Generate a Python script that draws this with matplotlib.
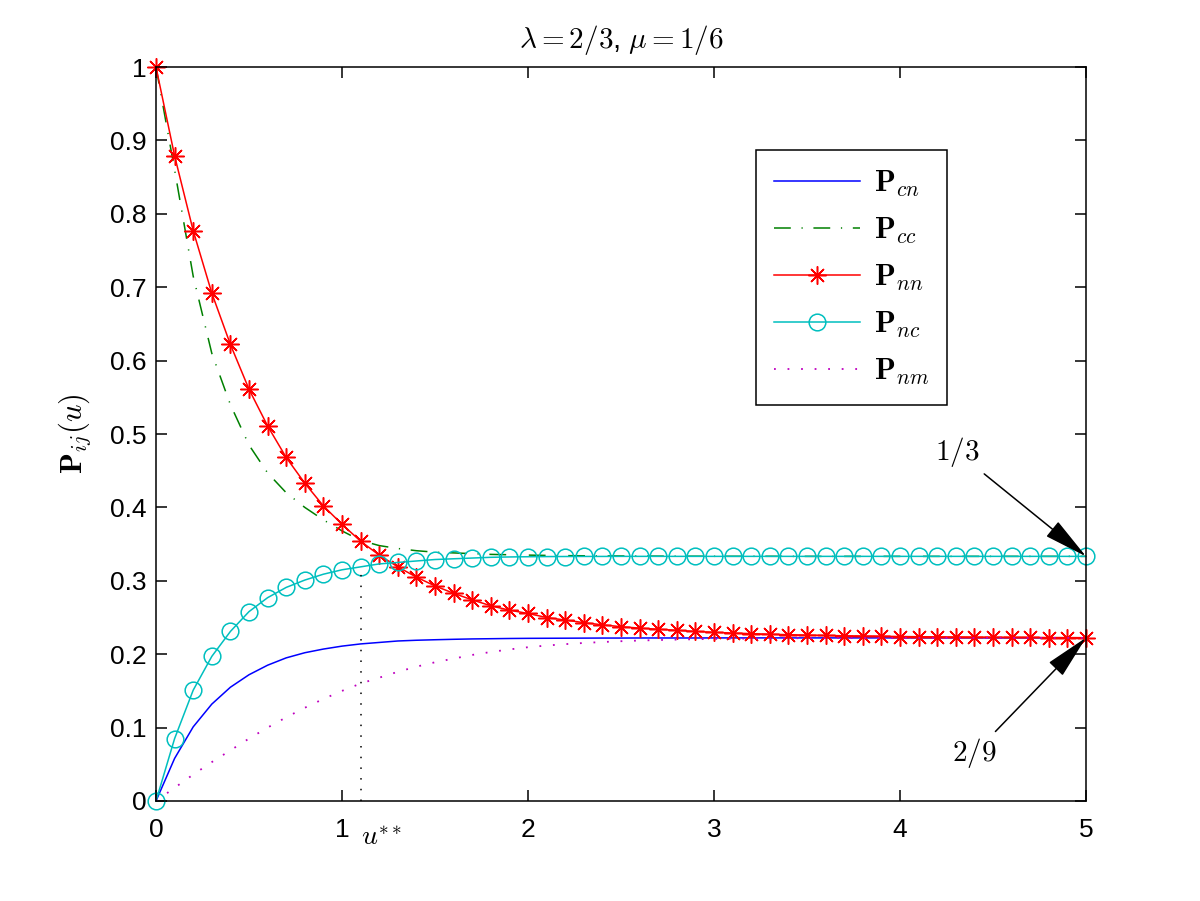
import numpy as np
import matplotlib
matplotlib.use("Agg")
import matplotlib.pyplot as plt

plt.rcParams['font.family'] = ['Liberation Sans', 'DejaVu Sans']
plt.rcParams['mathtext.fontset'] = 'cm'

# sampling grid (u = 0, 0.1, ..., 5)
u = np.round(np.arange(0, 51) * 0.1, 1)

p_cn = [0.0, 0.058, 0.101, 0.132, 0.155, 0.172, 0.185, 0.195, 0.202, 0.207,
        0.211, 0.214, 0.216, 0.218, 0.219, 0.2197, 0.2203, 0.2208, 0.2211, 0.2214,
        0.2216, 0.2217, 0.2218, 0.2219, 0.2220, 0.2220, 0.2221, 0.2221, 0.2221, 0.2221,
        0.2222, 0.2222, 0.2222, 0.2222, 0.2222, 0.2222, 0.2222, 0.2222, 0.2222, 0.2222,
        0.2222, 0.2222, 0.2222, 0.2222, 0.2222, 0.2222, 0.2222, 0.2222, 0.2222, 0.2222,
        0.2222]

p_cc = [1.0, 0.860, 0.715, 0.610, 0.540, 0.485, 0.447, 0.420, 0.400, 0.383,
        0.368, 0.355, 0.348, 0.344, 0.341, 0.339, 0.338, 0.337, 0.336, 0.3355,
        0.335, 0.3346, 0.3343, 0.3341, 0.3339, 0.3338, 0.3337, 0.3336, 0.3335, 0.3335,
        0.3334, 0.3334, 0.3334, 0.3334, 0.3333, 0.3333, 0.3333, 0.3333, 0.3333, 0.3333,
        0.3333, 0.3333, 0.3333, 0.3333, 0.3333, 0.3333, 0.3333, 0.3333, 0.3333, 0.3333,
        0.3333]

p_nn = [1.0, 0.879, 0.777, 0.692, 0.622, 0.561, 0.511, 0.468, 0.433, 0.402,
        0.377, 0.354, 0.335, 0.319, 0.305, 0.293, 0.283, 0.274, 0.266, 0.260,
        0.2555, 0.250, 0.2465, 0.243, 0.240, 0.2375, 0.2355, 0.234, 0.2325, 0.231,
        0.2298, 0.2288, 0.2280, 0.2272, 0.2266, 0.2260, 0.2255, 0.2251, 0.2247, 0.2244,
        0.2241, 0.2238, 0.2236, 0.2234, 0.2232, 0.2231, 0.2229, 0.2228, 0.2227, 0.2226,
        0.2225]

p_nc = [0.0, 0.085, 0.151, 0.197, 0.231, 0.258, 0.277, 0.291, 0.301, 0.309,
        0.315, 0.319, 0.323, 0.325, 0.327, 0.329, 0.330, 0.331, 0.332, 0.3325,
        0.3328, 0.3330, 0.3331, 0.3332, 0.3332, 0.3333, 0.3333, 0.3333, 0.3333, 0.3333,
        0.3333, 0.3333, 0.3333, 0.3333, 0.3333, 0.3333, 0.3333, 0.3333, 0.3333, 0.3333,
        0.3333, 0.3333, 0.3333, 0.3333, 0.3333, 0.3333, 0.3333, 0.3333, 0.3333, 0.3333,
        0.3333]

p_nm = [0.0, 0.018, 0.036, 0.053, 0.069, 0.085, 0.100, 0.114, 0.127, 0.139,
        0.150, 0.160, 0.168, 0.176, 0.183, 0.189, 0.194, 0.199, 0.203, 0.2065,
        0.2095, 0.2118, 0.2137, 0.2153, 0.2166, 0.2177, 0.2186, 0.2193, 0.2199, 0.2204,
        0.2208, 0.2211, 0.2213, 0.2215, 0.2217, 0.2218, 0.2219, 0.2220, 0.2220, 0.2221,
        0.2221, 0.2222, 0.2222, 0.2222, 0.2222, 0.2222, 0.2222, 0.2222, 0.2222, 0.2222,
        0.2222]

u_star = 1.1
labels = [r'$\mathbf{P}_{cn}$', r'$\mathbf{P}_{cc}$', r'$\mathbf{P}_{nn}$',
          r'$\mathbf{P}_{nc}$', r'$\mathbf{P}_{nm}$']

fig = plt.figure(figsize=(12, 9.01), dpi=100)
ax = fig.add_axes([0.13, 0.111, 0.775, 0.8146])

ax.plot(u, p_cn, color='b', lw=1.1, label=labels[0])
ax.plot(u, p_cc, color=(0, 0.5, 0), lw=1.1, dashes=[11, 7, 0.8, 7], label=labels[1])
ax.plot(u, p_nn, color='r', lw=1.1, marker=(8, 2, 0), ms=13, mew=1.1,
        label=labels[2], clip_on=False)
ax.plot(u, p_nc, color=(0, 0.75, 0.75), lw=1.1, marker='o', ms=12, mfc='none',
        mew=1.1, label=labels[3], clip_on=False)
ax.plot(u, p_nm, color=(0.75, 0, 0.75), lw=1.3, dashes=[1, 6.5], label=labels[4])

# u** marker line
i_star = int(round(u_star * 10))
ax.plot([u_star, u_star], [0, p_nc[i_star]], color='k', lw=1.1, dashes=[1, 6])
ax.text(u_star, -0.05, r'$u^{**}$', fontsize=20, ha='left', va='center')

arrow = dict(arrowstyle='-|>,head_length=1.4,head_width=0.3', color='k',
             lw=1.1, mutation_scale=20, shrinkA=2, shrinkB=0)
ax.annotate(r'$1/3$', xy=(5, p_nc[-1]), xytext=(4.31, 0.475), fontsize=21,
            ha='center', va='center', arrowprops=arrow, annotation_clip=False)
ax.annotate(r'$2/9$', xy=(5, p_nn[-1]), xytext=(4.40, 0.065), fontsize=21,
            ha='center', va='center', arrowprops=arrow, annotation_clip=False)

ax.set_xlim(0, 5)
ax.set_ylim(0, 1)
ax.set_xticks([0, 1, 2, 3, 4, 5])
ax.set_yticks(np.round(np.arange(0, 11) * 0.1, 1))
ax.set_yticklabels(['0', '0.1', '0.2', '0.3', '0.4', '0.5', '0.6', '0.7', '0.8', '0.9', '1'])
ax.tick_params(direction='in', top=True, right=True, length=8, width=1.1,
               labelsize=19)
ax.tick_params(axis='y', pad=7)
ax.tick_params(axis='x', pad=12)
for s in ax.spines.values():
    s.set_linewidth(1.1)

ax.set_title(r'$\lambda = 2/3$, $\mu = 1/6$', fontsize=21, pad=14)
ax.set_ylabel(r'$\mathbf{P}_{ij}(u)$', fontsize=22, labelpad=12)

leg = ax.legend(loc='upper left', bbox_to_anchor=(756 / 1200, 1 - 150 / 901),
                bbox_transform=fig.transFigure, borderaxespad=0, fontsize=22,
                handlelength=2.8, handletextpad=0.45, labelspacing=0.55,
                borderpad=0.6, fancybox=False, framealpha=1, edgecolor='k')
leg.get_frame().set_linewidth(1.1)

fig.savefig('out.png', dpi=100)
